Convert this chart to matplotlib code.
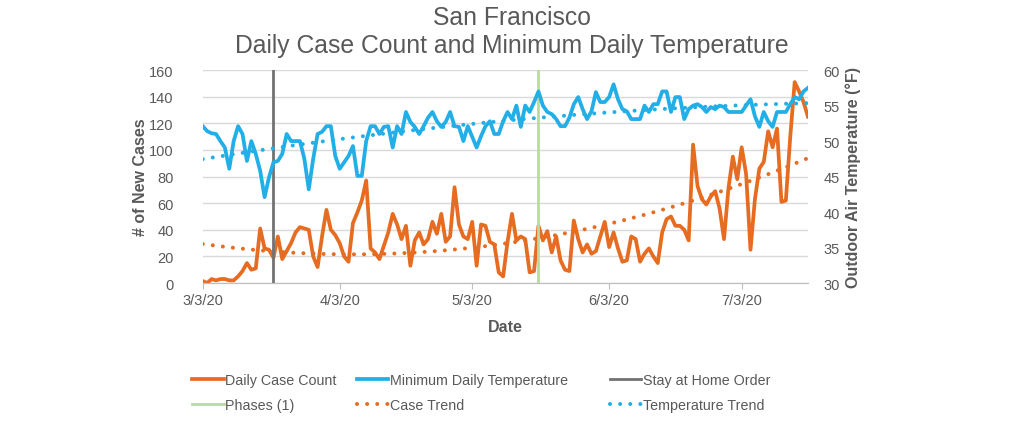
import numpy as np
import pandas as pd
import matplotlib
matplotlib.use("Agg")
import matplotlib.pyplot as plt

# DATOS (un valor por dia desde 3/3/20)

casos = [1.5, 0, 3, 2, 3, 3, 2, 2, 5, 9, 15, 10, 11,
         41, 26, 25, 19, 35, 18, 24, 30, 38, 42, 41, 40, 20, 12, 35, 55, 40, 36, 30,
         20, 16, 45, 53, 62, 77, 26, 23, 18, 28, 38, 52, 44, 33,
         43, 13, 32, 38, 29, 33, 46, 37, 52, 31, 35, 72, 44, 35, 33, 46, 13, 44, 43, 31, 29,
         8, 5, 31, 52, 32, 35, 33, 8, 9, 43, 32, 39, 23, 35, 17, 10, 9, 47, 33, 23, 29, 22,
         24, 35, 46, 27, 38, 26, 16, 17, 35, 33, 16, 22, 26, 20, 15, 38, 48, 50, 43, 43,
         40, 32, 104, 73,
         63, 59, 65, 69, 56, 33, 71, 95, 78, 102, 82, 25, 63, 86, 91, 114, 102, 116, 61,
         62, 110, 151, 144, 136, 125]

temperatura = [52.1, 51.4, 51.1, 51.0, 50.0, 49.1, 46.1, 50, 52.1, 51.0, 47.2, 50, 48.2,
               45.8, 42.1, 44.9, 47, 47.2, 48.2, 51, 50, 50,
               50, 47.5, 43.2, 47.5, 51, 51.3, 52.1, 52.1, 47.9, 46.1, 47, 47.9, 49.3, 45.1,
               45.1, 50, 52.1, 52.1, 51, 52, 52.1, 49.1, 52.1, 51,
               54.1, 52.7, 52, 51, 52.1, 53.3, 54.1, 52.8, 52, 52.7, 54.1, 52.1, 52, 50, 52.1,
               50.6, 49.1, 50.7, 52.1, 52.8, 51,
               51, 52.8, 54.1, 53.1, 55, 52, 55, 54.1, 55.5, 57, 55, 54.1, 53.8, 53.1, 52.1,
               52.1, 53.3, 55.2, 56.2, 54.5, 53.1, 54.2, 56.9, 55.5,
               55.5, 56.2, 58, 55.9, 54.5, 54.2, 53.1, 53.1, 53.1, 55, 54.1, 55.2, 55.2, 57,
               57, 54.1, 56.2, 56.2, 53.1, 54.5, 55, 55.2,
               54.8, 54.1, 54.8, 54.5, 55, 54.8, 54.1, 54.1, 54.1, 54.1, 55, 55.9, 53.5, 52,
               54.1, 52.8, 52, 54.1, 54.1, 54.1, 55.2, 56.2, 55.9, 57, 57.5]

fecha_inicio = "2020-03-03"
fecha_quedate_en_casa = "2020-03-19"
fecha_fase_1 = "2020-05-18"

ticks_fechas = ["2020-03-03", "2020-04-03", "2020-05-03", "2020-06-03", "2020-07-03"]
ticks_etiquetas = ["3/3/20", "4/3/20", "5/3/20", "6/3/20", "7/3/20"]

NARANJA = "#E66C22"
AZUL = "#22AEE6"
GRIS = "#595959"

fechas = pd.date_range(fecha_inicio, periods=len(casos), freq="D")

# Lineas de tendencia (polinomio de grado 2, como en Excel)
dias = np.arange(len(casos))
tendencia_casos = np.polyval(np.polyfit(dias, casos, 2), dias)
tendencia_temp = np.polyval(np.polyfit(dias, temperatura, 2), dias)

plt.rcParams["font.family"] = ["Liberation Sans", "DejaVu Sans"]

fig = plt.figure(figsize=(10.24, 4.31), dpi=100)
ax = fig.add_axes([0.198, 0.341, 0.591, 0.494])
ax2 = ax.twinx()

puntos = (0, (0.01, 2.5))
l1, = ax.plot(fechas, casos, color=NARANJA, lw=2.7, label="Daily Case Count",
              solid_joinstyle="round")
l5, = ax.plot(fechas, tendencia_casos, color=NARANJA, lw=2.9, linestyle=puntos,
              dash_capstyle="round", label="Case Trend")
l2, = ax2.plot(fechas, temperatura, color=AZUL, lw=2.7, label="Minimum Daily Temperature",
               solid_joinstyle="round")
l6, = ax2.plot(fechas, tendencia_temp, color=AZUL, lw=2.9, linestyle=puntos,
               dash_capstyle="round", label="Temperature Trend")
l3 = ax.axvline(pd.Timestamp(fecha_quedate_en_casa), color="#727272", lw=2,
                label="Stay at Home Order")
l4 = ax.axvline(pd.Timestamp(fecha_fase_1), color="#B9DC9E", lw=2, label="Phases (1)")

ax.set_xlim(fechas[0], fechas[-1])
ax.set_ylim(0, 160)
ax.set_yticks(range(0, 161, 20))
ax2.set_ylim(30, 60)
ax2.set_yticks(range(30, 61, 5))

ax.set_xticks(pd.to_datetime(ticks_fechas))
ax.set_xticklabels(ticks_etiquetas)

ax.grid(axis="y", color="#D9D9D9", lw=1)
ax.set_axisbelow(True)
for a in (ax, ax2):
    for lado in ("top", "left", "right"):
        a.spines[lado].set_visible(False)
    a.spines["bottom"].set_color("#BFBFBF")
    a.tick_params(axis="y", length=0, labelsize=10.5, labelcolor=GRIS)
ax.tick_params(axis="y", pad=21)
ax2.tick_params(axis="y", pad=11)
ax.tick_params(axis="x", length=4, color="#BFBFBF", labelsize=10.5, labelcolor=GRIS, pad=3)

ax.set_xlabel("Date", fontsize=11.5, fontweight="bold", color=GRIS, labelpad=9)
ax.set_ylabel("# of New Cases", fontsize=11.5, fontweight="bold", color=GRIS, labelpad=1)
ax2.set_ylabel("Outdoor Air Temperature (°F)", fontsize=11.5, fontweight="bold", color=GRIS,
               labelpad=4)

fig.suptitle("San Francisco\nDaily Case Count and Minimum Daily Temperature",
             x=0.5, y=0.985, fontsize=17.8, color=GRIS, linespacing=1.2)

# LEYENDA: tres columnas separadas para acercarse a la posicion original
columnas = [([l1, l4], 0.182), ([l2, l5], 0.343), ([l3, l6], 0.59)]
for hs, x0 in columnas:
    fig.legend(handles=hs, labels=[h.get_label() for h in hs], loc="upper left",
               bbox_to_anchor=(x0, 0.145), frameon=False, fontsize=10.3,
               labelcolor=GRIS, handlelength=2.2, handletextpad=0.1, labelspacing=0.75,
               borderaxespad=0)

fig.savefig("out.png", dpi=100)
